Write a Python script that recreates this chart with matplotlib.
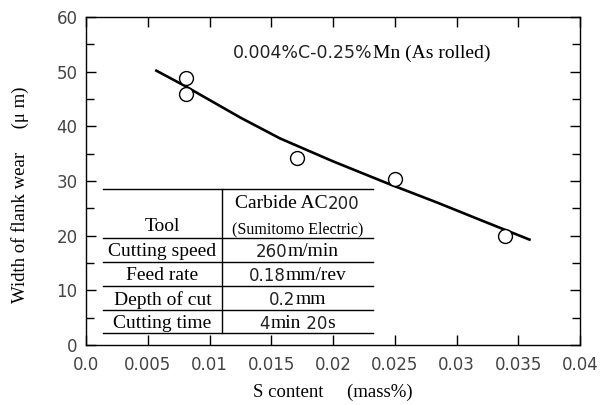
import matplotlib
matplotlib.use("Agg")
import matplotlib.pyplot as plt
from matplotlib.transforms import ScaledTranslation
from matplotlib.ticker import MultipleLocator, FixedLocator

# measured points
s_content = [0.0081, 0.0081, 0.0171, 0.0250, 0.0339]
flank_wear = [48.9, 45.9, 34.2, 30.3, 19.9]

# fitted curve
fit_x = [0.0056, 0.0080, 0.0125, 0.0157, 0.0200, 0.0246, 0.0285, 0.0319, 0.0360]
fit_y = [50.3, 47.4, 41.6, 37.8, 33.6, 29.4, 26.0, 22.9, 19.2]

x_ticks = [0.0, 0.005, 0.01, 0.015, 0.02, 0.025, 0.03, 0.035, 0.04]
x_labels = ["0.0", "0.005", "0.01", "0.015", "0.02", "0.025", "0.03", "0.035", "0.04"]

SERIF = "Liberation Serif"
SANS = "DejaVu Sans"

# table rows: list of (left cell pieces, right cell pieces)
table_rows = [
    ([("Cutting speed", SERIF)], [("260", SANS), ("m/min", SERIF)]),
    ([("Feed rate", SERIF)], [("0.18", SANS), ("mm/rev", SERIF)]),
    ([("Depth of cut", SERIF)], [("0.2", SANS), ("mm", SERIF)]),
    ([("Cutting time", SERIF)], [("4", SANS), ("min", SERIF), (" 20", SANS), ("s", SERIF)]),
]

fig = plt.figure(figsize=(6.1, 4.05), dpi=100)
ax = fig.add_axes([0.141, 0.148, 0.810, 0.810])
renderer = fig.canvas.get_renderer()


def mixed_text(x, y, pieces, transform, ha="center", va="center", sizes=None):
    sizes = sizes or {SERIF: 14, SANS: 12}
    texts = []
    for s, fam in pieces:
        t = ax.text(x, y, s, family=fam, size=sizes[fam], transform=transform,
                    color="#222222" if fam == SANS else "black",
                    ha="left", va="baseline" if va == "baseline" else "center_baseline")
        texts.append(t)
    widths = [t.get_window_extent(renderer).width for t in texts]
    off = -sum(widths) / 2 if ha == "center" else 0.0
    for t, w in zip(texts, widths):
        t.set_transform(transform + ScaledTranslation(off / fig.dpi, 0, fig.dpi_scale_trans))
        off += w
    return texts


ax.plot(fit_x, fit_y, color="black", lw=1.9, solid_capstyle="butt")
ax.plot(s_content, flank_wear, "o", ms=10, mfc="white", mec="black", mew=1.0)

ax.set_xlim(0, 0.04)
ax.set_ylim(0, 60)
ax.xaxis.set_major_locator(FixedLocator(x_ticks))
ax.set_xticklabels(x_labels)
ax.yaxis.set_major_locator(MultipleLocator(10))
ax.yaxis.set_minor_locator(MultipleLocator(5))
ax.tick_params(which="both", direction="in", top=True, right=True, width=1.0, color="black")
ax.tick_params(which="major", length=7)
ax.tick_params(which="minor", length=5.5)
ax.tick_params(axis="x", pad=8)
ax.tick_params(axis="y", pad=6)
for lab in ax.get_xticklabels() + ax.get_yticklabels():
    lab.set_family(SANS)
    lab.set_fontsize(12)
    lab.set_color("#444444")
for sp in ax.spines.values():
    sp.set_linewidth(1.0)

# composition note
mixed_text(0.0119, 52.5, [("0.004%C-0.25%", SANS), ("Mn (As rolled)", SERIF)],
           ax.transData, ha="left", va="baseline", sizes={SERIF: 14, SANS: 12.5})

# conditions table (axes fraction)
tx0, tx1, tdiv = 0.0345, 0.58, 0.275
row_lines = [0.4745, 0.327, 0.2535, 0.180, 0.108, 0.0355]
ta = ax.transAxes
for yl in row_lines:
    ax.plot([tx0, tx1], [yl, yl], color="black", lw=1.0, transform=ta)
ax.plot([tdiv, tdiv], [row_lines[0], row_lines[-1]], color="black", lw=1.0, transform=ta)

lc = (tx0 + tdiv) / 2
rc = (tdiv + tx1) / 2
mixed_text(lc, 0.366, [("Tool", SERIF)], ta)
mixed_text(rc, 0.437, [("Carbide AC", SERIF), ("200", SANS)], ta)
mixed_text(rc, 0.358, [("(Sumitomo Electric)", SERIF)], ta, sizes={SERIF: 11.5, SANS: 12})
for i, (left, right) in enumerate(table_rows):
    yc = (row_lines[i + 1] + row_lines[i + 2]) / 2
    mixed_text(lc, yc, left, ta)
    mixed_text(rc, yc, right, ta)

# axis labels
fig.text(0.033, 0.52, "Width of flank wear\u3000 (\u03bc m)", family=[SERIF, "Noto Sans CJK JP"],
         size=13.5, rotation=90, ha="center", va="center")
fig.text(0.545, 0.032, "S content\u3000 (mass%)", family=[SERIF, "Noto Sans CJK JP"],
         size=13.5, ha="center", va="center")

fig.savefig("out.png", dpi=100)
